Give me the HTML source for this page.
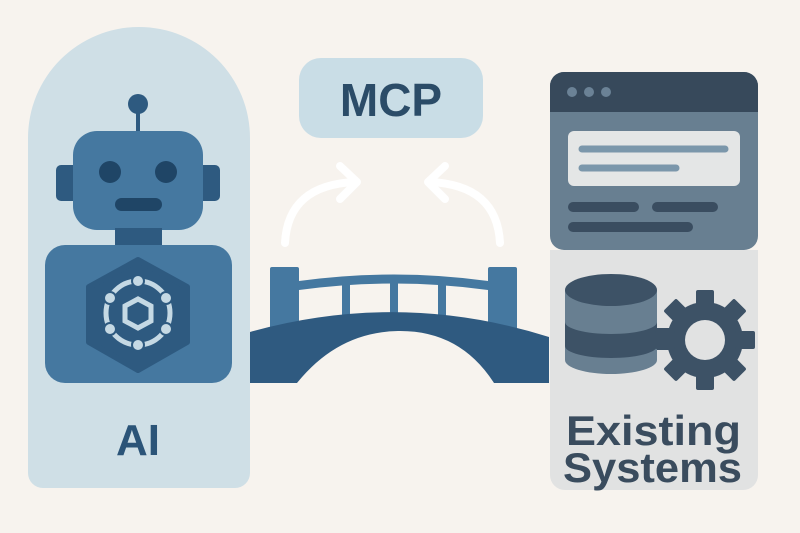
<!DOCTYPE html>
<html><head><meta charset="utf-8"><style>
html,body{margin:0;padding:0;background:#f7f3ee;}
svg{display:block;}
text{font-family:"Liberation Sans",sans-serif;font-weight:bold;}
</style></head><body>
<svg width="800" height="533" viewBox="0 0 800 533" xmlns="http://www.w3.org/2000/svg">
<rect width="800" height="533" fill="#f7f3ee"/>
<!-- Left panel -->
<path d="M28 488 V138 A111 111 0 0 1 250 138 V473 A15 15 0 0 1 235 488 H43 A15 15 0 0 1 28 473 Z" fill="#cfdfe6"/>
<line x1="138" y1="104" x2="138" y2="132" stroke="#2e5a80" stroke-width="4"/>
<circle cx="138" cy="104" r="10" fill="#2e5a80"/>
<rect x="56" y="165" width="22" height="36" rx="5" fill="#2e5a80"/>
<rect x="198" y="165" width="22" height="36" rx="5" fill="#2e5a80"/>
<rect x="73" y="131" width="130" height="99" rx="24" fill="#4578a0"/>
<circle cx="110" cy="172" r="11" fill="#1f4566"/>
<circle cx="166" cy="172" r="11" fill="#1f4566"/>
<rect x="115" y="198" width="47" height="13" rx="6.5" fill="#1f4566"/>
<rect x="115" y="228" width="47" height="20" fill="#2e5a80"/>
<rect x="45" y="245" width="187" height="138" rx="20" fill="#4578a0"/>
<polygon points="138,260 187,287 187,342 138,370 89,342 89,287" fill="#2e5a80" stroke="#2e5a80" stroke-width="6" stroke-linejoin="round"/>
<g fill="none" stroke="#c5d9e4" stroke-width="5">
<polygon points="138,299 151,306 151,321 138,328 125,321 125,306"/>
<circle cx="138" cy="313" r="32"/>
</g>
<g fill="#c5d9e4" stroke="#2e5a80" stroke-width="2">
<circle cx="138" cy="281" r="6"/><circle cx="166" cy="298" r="6"/><circle cx="166" cy="329" r="6"/>
<circle cx="138" cy="345" r="6"/><circle cx="110" cy="329" r="6"/><circle cx="110" cy="298" r="6"/>
</g>
<text x="138" y="455" text-anchor="middle" font-size="44" fill="#2b5478">AI</text>
<!-- MCP -->
<rect x="299" y="58" width="184" height="80" rx="22" fill="#c9dde6"/>
<text x="391" y="116" text-anchor="middle" font-size="46" fill="#2b4c68">MCP</text>
<!-- arrows -->
<g fill="none" stroke="#ffffff" stroke-width="8" stroke-linecap="round" stroke-linejoin="round">
<path d="M285 243 Q288 185 355 182"/>
<path d="M340 166 L357 182 L340 199"/>
<path d="M500 243 Q497 185 430 182"/>
<path d="M445 166 L428 182 L445 199"/>
</g>
<!-- bridge -->
<g fill="#4578a0">
<rect x="270" y="267" width="29" height="70" rx="2"/>
<rect x="488" y="267" width="29" height="70" rx="2"/>
<path d="M299 281 Q394 268 488 281 L488 290 Q394 277 299 290 Z"/>
<rect x="342" y="282" width="8" height="35"/>
<rect x="390" y="278" width="8" height="35"/>
<rect x="438" y="282" width="8" height="35"/>
</g>
<path d="M250 332 Q400 290 549 337 L549 383 L494 383 Q460 330 398 331 Q338 332 297 383 L250 383 Z" fill="#2f5a80"/>
<!-- right panel -->
<path d="M550 250 H758 V475 A15 15 0 0 1 743 490 H565 A15 15 0 0 1 550 475 Z" fill="#e1e2e2"/>
<path d="M550 236 V86 A14 14 0 0 1 564 72 H744 A14 14 0 0 1 758 86 V236 A14 14 0 0 1 744 250 H564 A14 14 0 0 1 550 236 Z" fill="#687f91"/>
<path d="M550 112 V86 A14 14 0 0 1 564 72 H744 A14 14 0 0 1 758 86 V112 Z" fill="#37495b"/>
<circle cx="572" cy="92" r="5" fill="#6b8296"/><circle cx="589" cy="92" r="5" fill="#6b8296"/><circle cx="606" cy="92" r="5" fill="#6b8296"/>
<rect x="568" y="131" width="172" height="55" rx="6" fill="#e4e6e6"/>
<g stroke-linecap="round" fill="none">
<line x1="582" y1="149" x2="725" y2="149" stroke="#7b97ab" stroke-width="7"/>
<line x1="582" y1="168" x2="676" y2="168" stroke="#7b97ab" stroke-width="7"/>
<line x1="573" y1="207" x2="634" y2="207" stroke="#3a4d60" stroke-width="10"/>
<line x1="657" y1="207" x2="713" y2="207" stroke="#3a4d60" stroke-width="10"/>
<line x1="573" y1="227" x2="688" y2="227" stroke="#3a4d60" stroke-width="10"/>
</g>
<!-- database -->
<rect x="640" y="328" width="30" height="22" fill="#3d5266"/>
<path d="M565 290 V360 A46 14 0 0 0 657 360 V290 Z" fill="#687f91"/>
<path d="M565 322 V346 A46 12 0 0 0 657 346 V322 A46 12 0 0 1 565 322 Z" fill="#3d5266"/>
<ellipse cx="611" cy="290" rx="46" ry="16" fill="#3d5266"/>
<!-- gear -->
<g fill="#3d5266" transform="translate(705,340)">
<circle r="38"/>
<g id="t"><rect x="-9" y="-50" width="18" height="20" rx="2"/></g>
<use href="#t" transform="rotate(45)"/><use href="#t" transform="rotate(90)"/><use href="#t" transform="rotate(135)"/>
<use href="#t" transform="rotate(180)"/><use href="#t" transform="rotate(225)"/><use href="#t" transform="rotate(270)"/><use href="#t" transform="rotate(315)"/>
<circle r="20" fill="#e1e2e2"/>
</g>
<text x="566" y="445" font-size="42" fill="#3a4c5e" textLength="175" lengthAdjust="spacingAndGlyphs">Existing</text>
<text x="563" y="482" font-size="42" fill="#3a4c5e" textLength="179" lengthAdjust="spacingAndGlyphs">Systems</text>
</svg>
</body></html>
